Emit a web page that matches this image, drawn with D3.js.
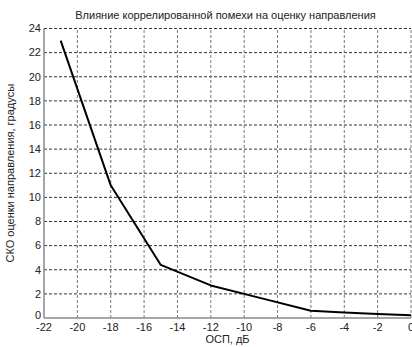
<!DOCTYPE html>
<html lang="ru">
<head>
    <meta charset="UTF-8">
    <title>Влияние коррелированной помехи</title>
    <script src="https://d3js.org/d3.v7.min.js"></script>
    <style>
        body { margin: 0; background: #fff; }
        text { font-family: "Liberation Sans", Arial, sans-serif; font-size: 11px; fill: #222; }
        .hgrid { stroke: #333; stroke-dasharray: 3,2; }
        .vgrid { stroke: #777; stroke-dasharray: 3,2; }
    </style>
</head>
<body>
<script>
    const width = 412;
    const height = 347;
    const margin = {top: 28.5, right: 1, bottom: 29, left: 44};

    // values
    const snr = [-21, -18, -15, -12, -9, -6, -4, -2, 0];
    const rmse = [23, 11, 4.4, 2.7, 1.65, 0.6, 0.45, 0.33, 0.22];
    const xTicks = [-22, -20, -18, -16, -14, -12, -10, -8, -6, -4, -2, 0];
    const yTicks = [0, 2, 4, 6, 8, 10, 12, 14, 16, 18, 20, 22, 24];

    const title = "Влияние коррелированной помехи на оценку направления";
    const xLabel = "ОСП, дБ";
    const yLabel = "СКО оценки направления, градусы";

    const svg = d3.select("body").append("svg")
            .attr("width", width).attr("height", height);

    const x = d3.scaleLinear().domain([-22, 0]).range([margin.left, width - margin.right]);
    const y = d3.scaleLinear().domain([0, 24]).range([height - margin.bottom, margin.top]);

    // grid
    svg.append("g").selectAll("line")
            .data(yTicks.filter(d => d > 0)).enter()
            .append("line").attr("class", "hgrid")
            .attr("x1", x(-22)).attr("x2", x(0))
            .attr("y1", d => y(d)).attr("y2", d => y(d));

    svg.append("g").selectAll("line")
            .data(xTicks.filter(d => d > -22)).enter()
            .append("line").attr("class", "vgrid")
            .attr("x1", d => x(d)).attr("x2", d => x(d))
            .attr("y1", y(0)).attr("y2", y(24));

    // axes (MATLAB-like: only left and bottom solid)
    svg.append("line")
            .attr("x1", x(-22)).attr("x2", x(-22))
            .attr("y1", y(0)).attr("y2", y(24))
            .attr("stroke", "#888").attr("stroke-width", 1.5);
    svg.append("line")
            .attr("x1", x(-22)).attr("x2", x(0))
            .attr("y1", y(0)).attr("y2", y(0))
            .attr("stroke", "#888").attr("stroke-width", 1.5);

    // tick labels
    svg.append("g").selectAll("text")
            .data(yTicks).enter()
            .append("text")
            .attr("x", x(-22) - 3)
            .attr("y", d => d === 0 ? y(d) - 3 : y(d))
            .attr("dy", "0.35em")
            .attr("text-anchor", "end")
            .text(d => d);

    svg.append("g").selectAll("text")
            .data(xTicks).enter()
            .append("text")
            .attr("x", d => x(d))
            .attr("y", y(0) + 13)
            .attr("text-anchor", "middle")
            .text(d => d);

    // data line
    const line = d3.line().x((d, i) => x(snr[i])).y(d => y(d));
    svg.append("path")
            .datum(rmse)
            .attr("d", line)
            .attr("fill", "none")
            .attr("stroke", "#000")
            .attr("stroke-width", 2)
            .attr("stroke-linejoin", "round");

    // titles
    svg.append("text")
            .attr("x", (x(-22) + x(0)) / 2 - 2)
            .attr("y", 19)
            .attr("text-anchor", "middle")
            .text(title);

    svg.append("text")
            .attr("x", (x(-22) + x(0)) / 2)
            .attr("y", 343)
            .attr("text-anchor", "middle")
            .text(xLabel);

    svg.append("text")
            .attr("transform", "translate(14," + ((y(0) + y(24)) / 2) + ") rotate(-90)")
            .attr("text-anchor", "middle")
            .text(yLabel);
</script>
</body>
</html>
